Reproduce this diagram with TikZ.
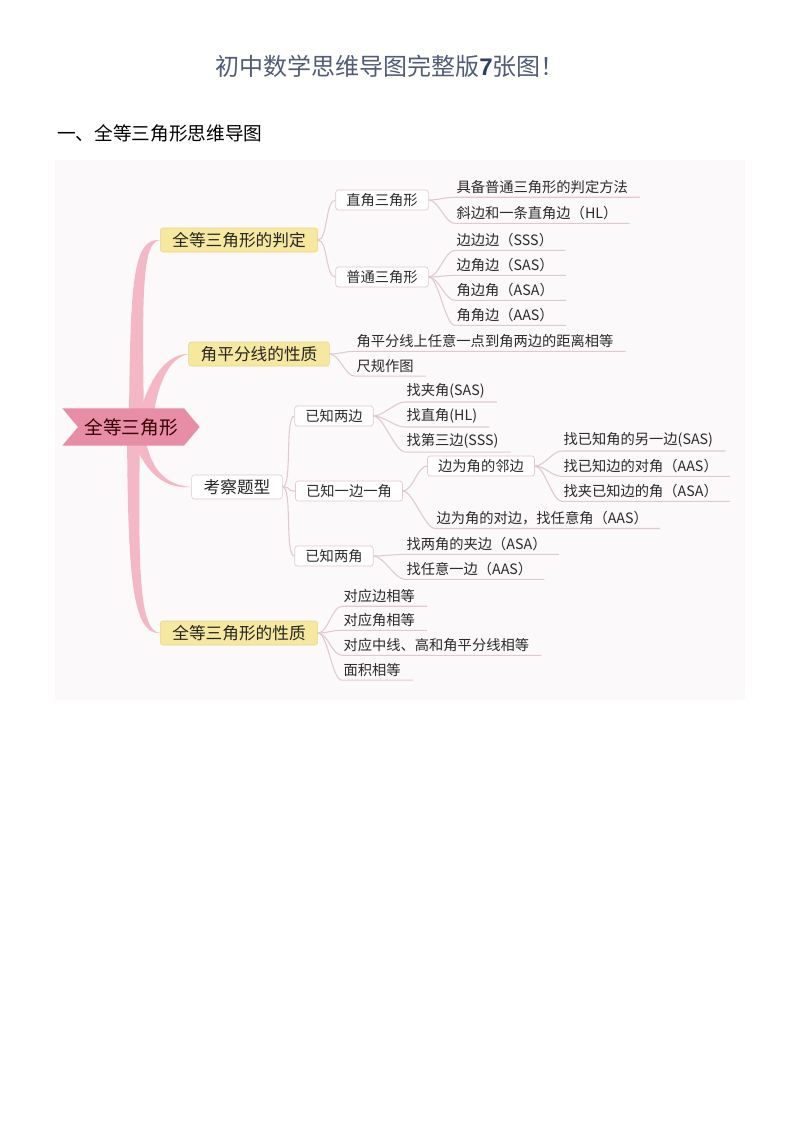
\documentclass[tikz,border=0pt]{standalone}
\usepackage{fontspec}
\setmainfont{Noto Sans CJK SC}
\newfontfamily\latinfont{Liberation Sans}
\usepackage{xcolor}
\usetikzlibrary{shapes.symbols}

\definecolor{titleblue}{HTML}{505C78}
\definecolor{sevenblue}{HTML}{2C3E66}
\definecolor{canvas}{HTML}{FBF9F9}
\definecolor{rootpink}{HTML}{E78DA5}
\definecolor{trunkpink}{HTML}{F3B7C6}
\definecolor{topicyellow}{HTML}{F6E89E}
\definecolor{topicedge}{HTML}{E8D585}
\definecolor{linegrey}{HTML}{E2C9CE}
\definecolor{leafink}{HTML}{2B2B2B}

\pgfdeclarelayer{back}
\pgfsetlayers{back,main}

\tikzset{
    rootnode/.style={signal, signal from=west, signal to=east,
        signal pointer angle=100, fill=rootpink, minimum width=103pt,
        minimum height=28pt, inner sep=0pt,
        font=\fontsize{14}{14}\selectfont, text=black!80!red},
    topicnode/.style={fill=topicyellow, draw=topicedge, line width=0.4pt,
        rounded corners=2pt, minimum height=18pt, inner xsep=9pt,
        inner ysep=0pt, font=\fontsize{12.5}{12.5}\selectfont, text=black!85},
    plaintopic/.style={topicnode, fill=white, draw=linegrey},
    subnode/.style={fill=white, draw=linegrey, line width=0.5pt,
        rounded corners=2pt, minimum height=15pt, inner xsep=8pt,
        inner ysep=0pt, font=\fontsize{10.7}{10.7}\selectfont, text=leafink},
    leafnode/.style={anchor=west, inner xsep=1pt, inner ysep=2.5pt,
        font=\fontsize{10.7}{10.7}\selectfont, text=leafink},
    link/.style={draw=linegrey, line width=0.8pt},
}

\begin{document}
\begin{tikzpicture}[x=0.75pt, y=-0.75pt]

    \useasboundingbox (0, 0) rectangle++ (793, 1122);

    \node (title) at (390, 66) {\fontsize{18}{18}\selectfont\color{titleblue}
        初中数学思维导图完整版{\latinfont\bfseries\color{sevenblue}7}张图！};
    \node [anchor=west, inner sep=0pt] (heading) at (57, 133)
        {\fontsize{14}{14}\selectfont 一、全等三角形思维导图};

    % main topics
    \node [rootnode] (root) at (131, 427) {全等三角形};
    \node [topicnode] (judge) at (239, 240) {全等三角形的判定};
    \node [topicnode] (bisect) at (259, 354) {角平分线的性质};
    \node [plaintopic] (exam) at (237, 487) {考察题型};
    \node [topicnode] (prop) at (239, 633) {全等三角形的性质};

    % sub topics
    \node [subnode] (right) at (382, 200) {直角三角形};
    \node [subnode] (common) at (382, 277) {普通三角形};
    \node [subnode] (twoside) at (334, 416) {已知两边};
    \node [subnode] (sideangle) at (349, 491) {已知一边一角};
    \node [subnode] (twoangle) at (334, 556) {已知两角};
    \node [subnode] (adjside) at (481, 466) {边为角的邻边};

    % leaves
    \node [leafnode] (j1) at (455, 187) {具备普通三角形的判定方法};
    \node [leafnode] (j2) at (455, 213) {斜边和一条直角边（HL）};
    \node [leafnode] (c1) at (455, 240) {边边边（SSS）};
    \node [leafnode] (c2) at (455, 265) {边角边（SAS）};
    \node [leafnode] (c3) at (455, 290) {角边角（ASA）};
    \node [leafnode] (c4) at (455, 315) {角角边（AAS）};
    \node [leafnode] (b1) at (355, 341) {角平分线上任意一点到角两边的距离相等};
    \node [leafnode] (b2) at (355, 366) {尺规作图};
    \node [leafnode] (s1) at (405, 391) {找夹角(SAS)};
    \node [leafnode] (s2) at (405, 416) {找直角(HL)};
    \node [leafnode] (s3) at (405, 441) {找第三边(SSS)};
    \node [leafnode] (a1) at (562, 440) {找已知角的另一边(SAS)};
    \node [leafnode] (a2) at (562, 466) {找已知边的对角（AAS）};
    \node [leafnode] (a3) at (562, 491) {找夹已知边的角（ASA）};
    \node [leafnode] (opp) at (435, 518) {边为角的对边，找任意角（AAS）};
    \node [leafnode] (g1) at (405, 544) {找两角的夹边（ASA）};
    \node [leafnode] (g2) at (405, 569) {找任意一边（AAS）};
    \node [leafnode] (p1) at (342, 596) {对应边相等};
    \node [leafnode] (p2) at (342, 620) {对应角相等};
    \node [leafnode] (p3) at (342, 645) {对应中线、高和角平分线相等};
    \node [leafnode] (p4) at (342, 670) {面积相等};

    % connectors to boxed sub topics
    \foreach \p/\c in {judge/right, judge/common, exam/twoside,
        exam/sideangle, exam/twoangle, sideangle/adjside}
        \draw [link] (\p.east) .. controls +(10, 0) and +(-10, 0) .. (\c.west);

    % connectors to underlined leaves
    \foreach \p/\c in {right/j1, right/j2, common/c1, common/c2, common/c3,
        common/c4, bisect/b1, bisect/b2, twoside/s1, twoside/s2, twoside/s3,
        adjside/a1, adjside/a2, adjside/a3, sideangle/opp, twoangle/g1,
        twoangle/g2, prop/p1, prop/p2, prop/p3, prop/p4}
        \draw [link] (\p.east) .. controls +(10, 0) and +(-10, 0)
        .. (\c.south west) -- ([xshift=8pt]\c.south east);

    \begin{pgfonlayer}{back}
        \fill [canvas] (55, 160) rectangle (745, 700);
        % pink trunk
        \fill [trunkpink] (129, 425) .. controls (130, 280) and (133, 238)
            .. (judge.west) .. controls (142, 242) and (142, 290) .. (144, 425) -- cycle;
        \fill [trunkpink] (138, 420) .. controls (148, 380) and (165, 354)
            .. (bisect.west) .. controls (168, 358) and (157, 385) .. (152, 425) -- cycle;
        \fill [trunkpink] (130, 432) .. controls (145, 475) and (165, 489)
            .. (exam.west) .. controls (165, 485) and (150, 470) .. (144, 432) -- cycle;
        \fill [trunkpink] (127, 430) .. controls (128, 570) and (131, 635)
            .. (prop.west) .. controls (139, 631) and (138, 570) .. (140, 430) -- cycle;
    \end{pgfonlayer}

\end{tikzpicture}
\end{document}
